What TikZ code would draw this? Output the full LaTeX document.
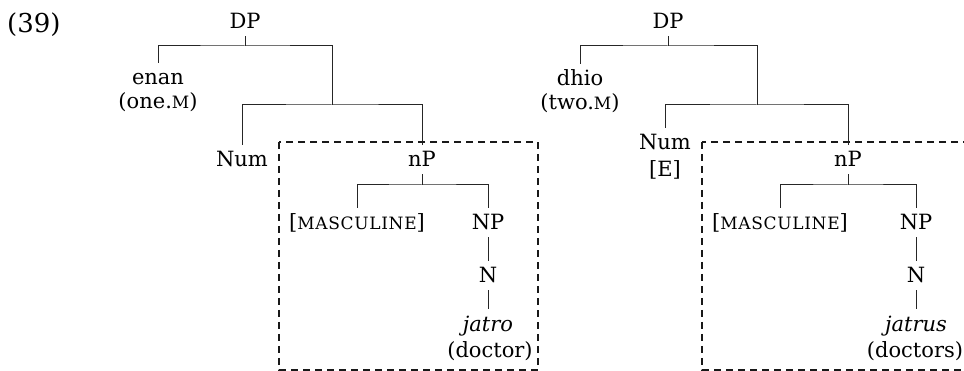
\documentclass[tikz,border=0pt]{standalone}
\usepackage{fontspec}
\setmainfont{DejaVu Serif}
\newfontfamily\scfont[LetterSpace=4]{DejaVu Serif}
\newcommand\fakesc[1]{{\scfont\fontsize{17}{17}\selectfont #1}}
\begin{document}
\begin{tikzpicture}[x=1pt,y=-1pt,
  lbl/.style={anchor=base,inner sep=0pt,text height=22pt,text depth=7pt,font=\fontsize{21}{25}\selectfont},
  branch/.style={draw=black!85,line width=1pt},
  box/.style={draw=black!90,line width=1.2pt,dash pattern=on 7pt off 5pt}]
\useasboundingbox (0,0) rectangle (964,371);
\clip (0,0) rectangle (964,371);
% example number
\node[anchor=base west,inner sep=0pt,font=\fontsize{26}{30}\selectfont] (ex) at (7,33) {(39)};
% ---------- left tree ----------
\node[lbl] (dpL) at (245,29) {DP};
\node[lbl] (enan) at (158,85) {enan};
\node[lbl] (oneM) at (158,109) {(one.\fakesc{M})};
\coordinate (j1) at (332,105);
\coordinate (b1) at (245,46);
\node[lbl] (numL) at (242,167) {Num};
\node[lbl] (npL) at (422,167) {nP};
\coordinate (b2) at (422,185);
\node[lbl] (mascL) at (357,230) {[\fakesc{MASCULINE}]};
\node[lbl] (NPL) at (488,230) {NP};
\node[lbl] (NL) at (488,283) {N};
\node[lbl] (jatro) at (488,331) {\itshape jatro};
\node[lbl] (docL) at (490,358) {(doctor)};
\draw[branch] (dpL.south) -- (b1);
\draw[branch] (enan.north) |- (b1) -| (j1);
\draw[branch] (numL.north) |- (j1) -| (npL.north);
\draw[branch] (npL.south) -- (b2);
\draw[branch] (mascL.north) |- (b2) -| (NPL.north);
\draw[branch] (NPL.south) -- (NL.north);
\draw[branch] (NL.south) -- (jatro.north);
\coordinate (boxLa) at (279,142);
\coordinate (boxLb) at (538,370);
\draw[box] (boxLa) rectangle (boxLb);
% ---------- right tree ----------
\node[lbl] (dpR) at (668,29) {DP};
\node[lbl] (dhio) at (580,86) {dhio};
\node[lbl] (twoM) at (580,110) {(two.\fakesc{M})};
\coordinate (j2) at (757,105);
\coordinate (b3) at (668,46);
\node[lbl] (numR) at (665,150) {Num};
\node[lbl] (eR) at (665,177) {[E]};
\node[lbl] (npR) at (848,167) {nP};
\coordinate (b4) at (848,185);
\node[lbl] (mascR) at (780,230) {[\fakesc{MASCULINE}]};
\node[lbl] (NPR) at (916,230) {NP};
\node[lbl] (NR) at (916,283) {N};
\node[lbl] (jatrus) at (916,331) {\itshape jatrus};
\node[lbl] (docR) at (915,358) {(doctors)};
\draw[branch] (dpR.south) -- (b3);
\draw[branch] (dhio.north) |- (b3) -| (j2);
\draw[branch] (numR.north) |- (j2) -| (npR.north);
\draw[branch] (npR.south) -- (b4);
\draw[branch] (mascR.north) |- (b4) -| (NPR.north);
\draw[branch] (NPR.south) -- (NR.north);
\draw[branch] (NR.south) -- (jatrus.north);
\coordinate (boxRa) at (702,142);
\coordinate (boxRb) at (980,370);
\draw[box] (boxRa) rectangle (boxRb);
\end{tikzpicture}
\end{document}
